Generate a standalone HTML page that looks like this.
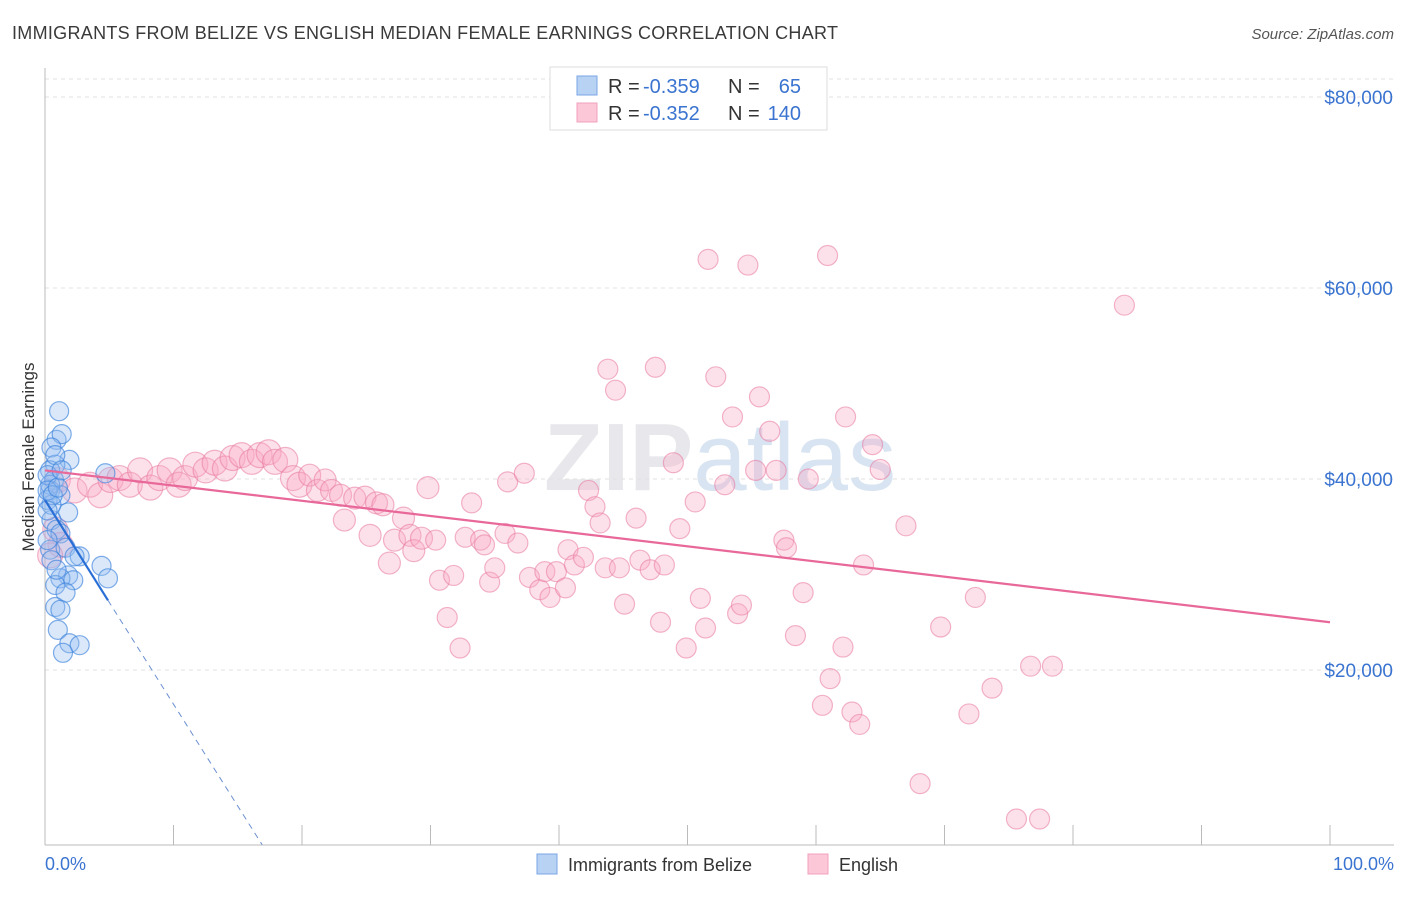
<!DOCTYPE html>
<html><head><meta charset="utf-8">
<style>
body{margin:0;background:#fff;font-family:"Liberation Sans",sans-serif;}
svg text{font-family:"Liberation Sans",sans-serif;}
</style></head>
<body>
<svg id="chart" width="1406" height="892" viewBox="0 0 1406 892" xmlns="http://www.w3.org/2000/svg">
<text x="12" y="39" font-size="18" fill="#3a3a3a" textLength="826" lengthAdjust="spacing">IMMIGRANTS FROM BELIZE VS ENGLISH MEDIAN FEMALE EARNINGS CORRELATION CHART</text>
<text x="1394" y="39" font-size="15" fill="#555" text-anchor="end" font-style="italic">Source: ZipAtlas.com</text>
<text x="720" y="490" font-size="96" fill="#e8e8ec" text-anchor="middle" font-weight="bold">ZIP<tspan fill="#d8e4f2" font-weight="normal">atlas</tspan></text>
<g id="grid"></g>
<g id="axes"></g>
<g id="pink"></g>
<g id="blue"></g>
<g id="lines"></g>
<text transform="translate(34,457) rotate(-90)" font-size="17" fill="#333" text-anchor="middle">Median Female Earnings</text>
<text x="45" y="870" font-size="18" fill="#3a74d0">0.0%</text>
<text x="1394" y="870" font-size="18" fill="#3a74d0" text-anchor="end">100.0%</text>
<g>
<rect x="550" y="67" width="277" height="63" fill="#fff" stroke="#ddd"/>
<rect x="577" y="76" width="20" height="19" fill="#b8d2f4" stroke="#7aa6e6"/>
<rect x="577" y="103" width="20" height="19" fill="#fcc8d8" stroke="#f0a0bc"/>
<text x="608" y="93" font-size="20" fill="#333">R =</text>
<text x="643" y="93" font-size="20" fill="#3a74d0">-0.359</text>
<text x="728" y="93" font-size="20" fill="#333">N =</text>
<text x="801" y="93" font-size="20" fill="#3a74d0" text-anchor="end">65</text>
<text x="608" y="120" font-size="20" fill="#333">R =</text>
<text x="643" y="120" font-size="20" fill="#3a74d0">-0.352</text>
<text x="728" y="120" font-size="20" fill="#333">N =</text>
<text x="801" y="120" font-size="20" fill="#3a74d0" text-anchor="end">140</text>
</g>
<g>
<rect x="537" y="854" width="20" height="20" fill="#b8d2f4" stroke="#7aa6e6"/>
<text x="568" y="871" font-size="18" fill="#333">Immigrants from Belize</text>
<rect x="808" y="854" width="20" height="20" fill="#fcc8d8" stroke="#f0a0bc"/>
<text x="839" y="871" font-size="18" fill="#333">English</text>
</g>
</svg>
<script>
const yTicks=[20000,40000,60000,80000];
const yTickLabels=["$20,000","$40,000","$60,000","$80,000"];
const xTicks=[0,10,20,30,40,50,60,70,80,90,100];
const blueX=[1.1,0.9,1.3,0.5,1.9,0.8,0.4,0.7,0.4,1.2,0.4,0.2,4.7,1.8,0.5,0.9,1.2,0.4,1.6,2.7,2.3,0.5,1.8,1.2,2.2,0.8,1.6,4.4,4.9,0.8,1.2,1.0,1.9,2.7,1.4,0.2,0.5,0.8,0.2,0.9,0.2,0.6,1.0,0.2,1.3];
const blueY=[47.1,44.1,44.7,43.3,42.0,41.5,40.9,39.9,38.8,38.3,39.4,40.4,40.6,36.5,35.7,34.7,34.3,32.6,32.8,31.9,31.9,31.5,29.9,29.6,29.4,28.9,28.1,30.9,29.6,26.6,26.3,24.2,22.8,22.6,21.8,37.8,37.3,42.5,33.6,30.5,38.8,38.3,39.1,36.7,40.9];
const pinkX=[1.0,2.3,3.5,4.3,5.1,5.8,6.6,7.4,8.2,8.9,9.7,10.4,10.9,11.7,12.5,13.2,14.0,14.6,15.3,16.1,16.7,17.4,17.9,18.7,19.3,19.8,20.6,21.2,21.8,22.3,23.0,23.3,24.1,24.9,25.3,25.8,26.3,26.8,27.2,27.9,28.4,28.7,29.3,29.8,30.4,30.7,31.3,31.8,32.3,32.7,33.2,33.9,34.2,34.6,35.0,35.8,36.0,36.8,37.3,37.7,38.5,38.9,39.3,39.8,40.5,40.7,41.2,41.9,42.3,42.8,43.2,43.6,43.8,44.4,44.7,45.1,46.0,46.3,47.1,47.5,47.9,48.2,48.9,49.4,49.9,50.6,51.0,51.4,51.6,52.2,52.9,53.5,53.9,54.2,54.7,55.3,55.6,56.4,56.9,57.5,57.7,58.4,59.0,59.4,60.9,61.1,60.5,62.1,62.3,62.8,63.4,63.7,64.4,65.0,67.0,68.1,69.7,71.9,72.4,73.7,75.6,76.7,77.4,78.4,84.0,0.8,1.2,0.4];
const pinkY=[39.9,38.8,39.4,38.3,39.9,40.1,39.4,40.9,39.1,40.1,40.9,39.4,40.1,41.5,40.9,41.7,41.1,42.2,42.5,41.8,42.5,42.8,41.8,42.0,40.1,39.4,40.4,38.8,39.9,38.8,38.3,35.7,38.0,38.1,34.1,37.5,37.3,31.2,33.6,35.9,34.1,32.5,33.8,39.1,33.6,29.4,25.5,29.9,22.3,33.9,37.5,33.6,33.1,29.2,30.7,34.3,39.7,33.3,40.6,29.7,28.4,30.3,27.6,30.3,28.6,32.6,31.0,31.8,38.8,37.1,35.4,30.7,51.5,49.3,30.7,26.9,35.9,31.5,30.5,51.7,25.0,31.0,41.7,34.8,22.3,37.6,27.5,24.4,63.0,50.7,39.4,46.5,25.9,26.8,62.4,40.9,48.6,45.0,40.9,33.6,32.8,23.6,28.1,40.0,63.4,19.1,16.3,22.4,46.5,15.6,14.3,31.0,43.6,41.0,35.1,8.1,24.5,15.4,27.6,18.1,4.4,20.4,4.4,20.4,58.2,34.7,33.1,32.0];
const blueTrend=[[0,37.8],[4.9,27.3],[16.9,1.7]];
const pinkTrend=[[0,40.9],[100,25.0]];

const NS="http://www.w3.org/2000/svg";
const X=p=>45+p*12.85;
const Y=v=>861-v*1000*191/20000;
function mk(tag,attrs,parent){const e=document.createElementNS(NS,tag);for(const k in attrs)e.setAttribute(k,attrs[k]);parent.appendChild(e);return e;}
const grid=document.getElementById('grid'),axes=document.getElementById('axes');
yTicks.forEach((t,i)=>{
  const y=861-t*191/20000;
  const l=mk('line',{x1:45,x2:1394,y1:y,y2:y,stroke:'#e2e2e2','stroke-dasharray':'4,4'},grid);
  
  
  const tx=mk('text',{x:1393,y:y+7,'font-size':19,fill:'#3a74d0','text-anchor':'end'},axes);
  tx.textContent=yTickLabels[i];
  
  
});
const tg=mk('line',{x1:45,x2:1394,y1:79,y2:79,stroke:'#e2e2e2','stroke-dasharray':'4,4'},grid);


const ya=mk('line',{x1:45,x2:45,y1:68,y2:845,stroke:'#bbb'},axes);


const xa=mk('line',{x1:45,x2:1394,y1:845,y2:845,stroke:'#bbb'},axes);


xTicks.forEach(t=>{
  const l=mk('line',{x1:X(t),x2:X(t),y1:825,y2:845,stroke:'#bbb'},axes);
  
  
});
const pg=document.getElementById('pink');
pinkX.forEach((x,i)=>{
  const c=mk('circle',{cx:X(x),cy:Y(pinkY[i]),r:x<20?12.5:(x<30?11:10),fill:'rgba(248,170,195,0.35)',stroke:'rgba(232,120,160,0.55)','stroke-width':1.2},pg);
  
  
});
const bg=document.getElementById('blue');
blueX.forEach((x,i)=>{
  const c=mk('circle',{cx:X(x),cy:Y(blueY[i]),r:9.5,fill:'rgba(150,190,240,0.35)',stroke:'rgba(60,130,220,0.65)','stroke-width':1.2},bg);
  
  
});
const lg=document.getElementById('lines');
const pl=mk('line',{x1:X(pinkTrend[0][0]),y1:Y(pinkTrend[0][1]),x2:X(pinkTrend[1][0]),y2:Y(pinkTrend[1][1]),stroke:'#e8689a','stroke-width':2.2},lg);


const bl=mk('line',{x1:X(blueTrend[0][0]),y1:Y(blueTrend[0][1]),x2:X(blueTrend[1][0]),y2:Y(blueTrend[1][1]),stroke:'#2a6fd6','stroke-width':2.2},lg);


const bd=mk('line',{x1:X(blueTrend[1][0]),y1:Y(blueTrend[1][1]),x2:X(blueTrend[2][0]),y2:Y(blueTrend[2][1]),stroke:'#6a8fd0','stroke-width':1,'stroke-dasharray':'6,5'},lg);


</script>
</body></html>
